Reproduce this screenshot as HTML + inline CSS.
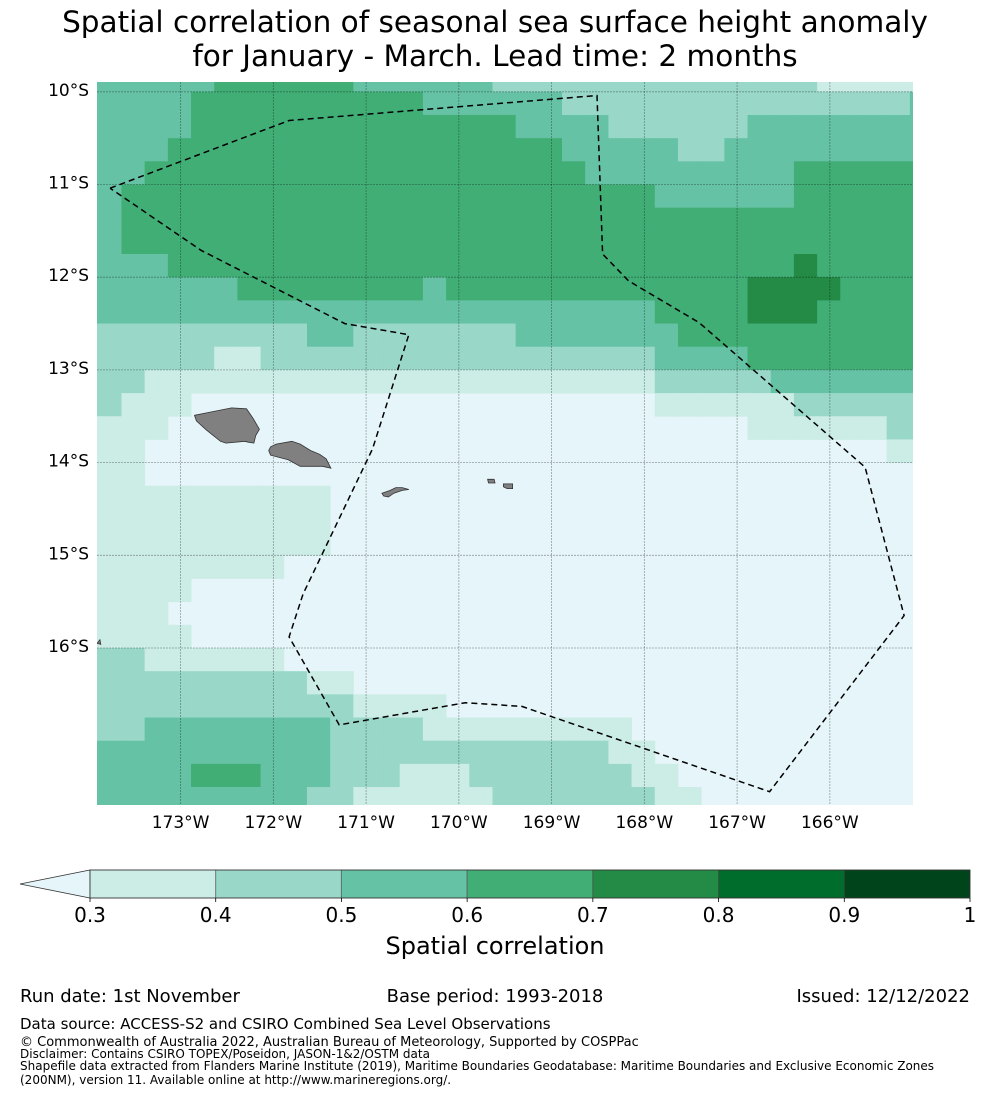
<!DOCTYPE html>
<html><head><meta charset="utf-8">
<style>
html,body{margin:0;padding:0;background:#fff;}
svg{display:block;font-family:"DejaVu Sans","Liberation Sans",sans-serif;}
</style></head>
<body>
<svg id="fig" width="990" height="1095" viewBox="0 0 990 1095" xmlns="http://www.w3.org/2000/svg">
<text x="495" y="32" font-size="29.5" text-anchor="middle">Spatial correlation of seasonal sea surface height anomaly</text>
<text x="495" y="66" font-size="29.5" text-anchor="middle">for January - March. Lead time: 2 months</text>
<defs><clipPath id="mapclip"><rect x="97" y="82" width="816" height="723"/></clipPath></defs>
<g id="map" clip-path="url(#mapclip)">
<rect x="97" y="82" width="816" height="723" fill="#e5f5f9"/>
<g id="cells"></g>
<g id="grid"></g>
<g id="land"></g>
<polyline id="eez" fill="none" stroke="#000" stroke-width="1.5" stroke-dasharray="6,4"/>
</g>
<g id="axes"></g>
<g id="cbar"></g>
<text x="495" y="954" font-size="24" text-anchor="middle">Spatial correlation</text>
<text x="20" y="1002" font-size="18">Run date: 1st November</text>
<text x="495" y="1002" font-size="18" text-anchor="middle">Base period: 1993-2018</text>
<text x="970" y="1002" font-size="18" text-anchor="end">Issued: 12/12/2022</text>
<text x="20" y="1029" font-size="15">Data source: ACCESS-S2 and CSIRO Combined Sea Level Observations</text>
<text x="20" y="1046" font-size="13">© Commonwealth of Australia 2022, Australian Bureau of Meteorology, Supported by COSPPac</text>
<text x="20" y="1058" font-size="12">Disclaimer: Contains CSIRO TOPEX/Poseidon, JASON-1&amp;2/OSTM data</text>
<text x="20" y="1070" font-size="12">Shapefile data extracted from Flanders Marine Institute (2019), Maritime Boundaries Geodatabase: Maritime Boundaries and Exclusive Economic Zones</text>
<text x="20" y="1084" font-size="12">(200NM), version 11. Available online at http://www.marineregions.org/.</text>
</svg>
<script>
// correlation bins per 0.25° cell (digit d => correlation bin 0.2+0.1*d), rows from north to south
const corrRows = [
"333334444443333332222222222222211111",
"333344444444443333332222222222222223",
"333344444444444444333322222233333333",
"333444444444444444443333322333333333",
"334444444444444444444333333333444444",
"344444444444444444444444333333444444",
"344444444444444444444444444444444444",
"344444444444444444444444444444444444",
"333444444444444444444444444444544444",
"333333444444443444444444444455554444",
"333333333333333333333333444455544444",
"222222222332222222333333344444444444",
"222221122222222222222222333344444444",
"221111111111111111111111222223333333",
"211100000000000000000000111111222222",
"111000000000000000000000000011111122",
"110000000000000000000000000000000011",
"110000000000000000000000000000000000",
"111111111100000000000000000000000000",
"111111111100000000000000000000000000",
"111111111100000000000000000000000000",
"111111110000000000000000000000000000",
"111100000000000000000000000000000000",
"111000000000000000000000000000000000",
"111100000000000000000000000000000000",
"221111110000000000000000000000000000",
"222222222110000000000000000000000000",
"222222222221111000000000000000000000",
"223333333322221111111110000000000000",
"333333333322222222222211000000000000",
"333344433322211122222221100000000000",
"333333333221111112222222110000000000"
];
const lonTicks = [-173,-172,-171,-170,-169,-168,-167,-166];
const latTicks = [-10,-11,-12,-13,-14,-15,-16];
const cbarTicks = ["0.3","0.4","0.5","0.6","0.7","0.8","0.9","1"];
const cbarColors = ["#ccece6","#99d8c9","#66c2a4","#41ae76","#238b45","#006d2c","#00441b"];
const binColors = ["#e5f5f9","#ccece6","#99d8c9","#66c2a4","#41ae76","#238b45","#006d2c","#00441b"];
const eezLonLat = [[-173.76,-11.04],[-171.83,-10.31],[-168.51,-10.04],[-168.45,-11.75],[-168.17,-12.04],[-167.41,-12.49],[-165.62,-14.05],[-165.20,-15.65],[-166.65,-17.55],[-169.32,-16.63],[-169.93,-16.59],[-171.29,-16.83],[-171.83,-15.88],[-171.68,-15.42],[-170.93,-13.85],[-170.54,-12.62],[-171.23,-12.50],[-172.78,-11.71],[-173.76,-11.04]];
const islands = [
 [[-172.85,-13.49],[-172.70,-13.46],[-172.45,-13.41],[-172.29,-13.42],[-172.22,-13.52],[-172.15,-13.64],[-172.19,-13.71],[-172.21,-13.79],[-172.27,-13.78],[-172.31,-13.77],[-172.51,-13.79],[-172.57,-13.77],[-172.72,-13.65],[-172.83,-13.55]],
 [[-172.03,-13.83],[-171.97,-13.80],[-171.80,-13.77],[-171.71,-13.80],[-171.60,-13.87],[-171.50,-13.91],[-171.43,-13.96],[-171.38,-14.06],[-171.47,-14.04],[-171.71,-14.04],[-171.84,-13.97],[-172.03,-13.92],[-172.05,-13.87]],
 [[-170.83,-14.33],[-170.74,-14.30],[-170.68,-14.27],[-170.61,-14.27],[-170.54,-14.29],[-170.61,-14.30],[-170.70,-14.33],[-170.76,-14.37],[-170.81,-14.36]],
 [[-169.69,-14.18],[-169.62,-14.18],[-169.61,-14.22],[-169.68,-14.22]],
 [[-169.52,-14.23],[-169.42,-14.23],[-169.42,-14.28],[-169.48,-14.28],[-169.52,-14.26]],
 [[-173.90,-15.95],[-173.87,-15.91],[-173.86,-15.96]]
];
// axis functions
function xOf(lon){ return 180.6 + (lon + 173) * 92.75; }
function yOf(lat){ return 91.8 + (-10 - lat) * 92.7; }
const NS = "http://www.w3.org/2000/svg";
function mk(tag, attrs, parent){ const e=document.createElementNS(NS,tag); for(const k in attrs) e.setAttribute(k,attrs[k]); parent.appendChild(e); return e; }
const cells = document.getElementById('cells');
const lon0 = -173.8875, latTop = -9.75, step = 0.25;
corrRows.forEach((row, r) => {
  for (let c = 0; c < row.length; c++) {
    const d = +row[c];
    if (d === 0) continue;
    const corr = 0.2 + 0.1 * d;
    const bin = Math.min(7, Math.max(0, Math.floor((corr - 0.2) * 10 + 1e-6)));
    let x1 = xOf(lon0 + c * step), x2 = xOf(lon0 + (c + 1) * step);
    if (c === 0) x1 = 90;
    if (c === row.length - 1) x2 = 920;
    const y1 = yOf(latTop - r * step), y2 = yOf(latTop - (r + 1) * step);
    const rect = mk('rect', {x:x1.toFixed(2), y:y1.toFixed(2), width:(x2-x1+0.4).toFixed(2), height:(y2-y1+0.4).toFixed(2), fill:binColors[bin]}, cells);
    
    
  }
});
const grid = document.getElementById('grid');
const axes = document.getElementById('axes');
lonTicks.forEach(lon => {
  const x = xOf(lon);
  const l = mk('line', {x1:x, y1:82, x2:x, y2:805, stroke:'#000', 'stroke-opacity':0.35, 'stroke-width':0.8, 'stroke-dasharray':'2,1'}, grid);
  
  
  const t = mk('text', {x:x, y:828, 'font-size':17, 'text-anchor':'middle'}, axes);
  t.textContent = Math.abs(lon) + '°W';
  
  
});
latTicks.forEach(lat => {
  const y = yOf(lat);
  const l = mk('line', {x1:97, y1:y, x2:913, y2:y, stroke:'#000', 'stroke-opacity':0.35, 'stroke-width':0.8, 'stroke-dasharray':'2,1'}, grid);
  
  
  const t = mk('text', {x:89, y:y+4, 'font-size':17, 'text-anchor':'end'}, axes);
  t.textContent = Math.abs(lat) + '°S';
  
  
});
const land = document.getElementById('land');
islands.forEach(poly => {
  const p = mk('polygon', {points: poly.map(q => xOf(q[0]).toFixed(1)+','+yOf(q[1]).toFixed(1)).join(' '), fill:'#808080', stroke:'#333', 'stroke-width':0.8}, land);
  
  
});
document.getElementById('eez').setAttribute('points', eezLonLat.map(q => xOf(q[0]).toFixed(1)+','+yOf(q[1]).toFixed(1)).join(' '));
// colorbar
const cbar = document.getElementById('cbar');
const cbX0 = 90, cbX1 = 970, cbY = 870, cbH = 28;
function cbx(v){ return cbX0 + (v - 0.3) / 0.7 * (cbX1 - cbX0); }
const tri = mk('polygon', {points: cbX0+','+cbY+' '+cbX0+','+(cbY+cbH)+' 20,'+(cbY+cbH/2), fill:'#e5f5f9', stroke:'#333', 'stroke-width':0.8}, cbar);


cbarColors.forEach((col, i) => {
  const v0 = parseFloat(cbarTicks[i]), v1 = parseFloat(cbarTicks[i+1]);
  const r = mk('rect', {x:cbx(v0), y:cbY, width:cbx(v1)-cbx(v0), height:cbH, fill:col, stroke:'#444', 'stroke-opacity':0.5, 'stroke-width':1}, cbar);
  
  
});
mk('rect', {x:cbX0, y:cbY, width:cbX1-cbX0, height:cbH, fill:'none', stroke:'#333', 'stroke-width':0.8}, cbar);
cbarTicks.forEach(s => {
  const x = cbx(parseFloat(s));
  mk('line', {x1:x, y1:cbY+cbH, x2:x, y2:cbY+cbH+4, stroke:'#000', 'stroke-width':0.8}, cbar);
  const t = mk('text', {x:x, y:922, 'font-size':20, 'text-anchor':'middle'}, cbar);
  t.textContent = s;
  
  
});
</script>
</body></html>
